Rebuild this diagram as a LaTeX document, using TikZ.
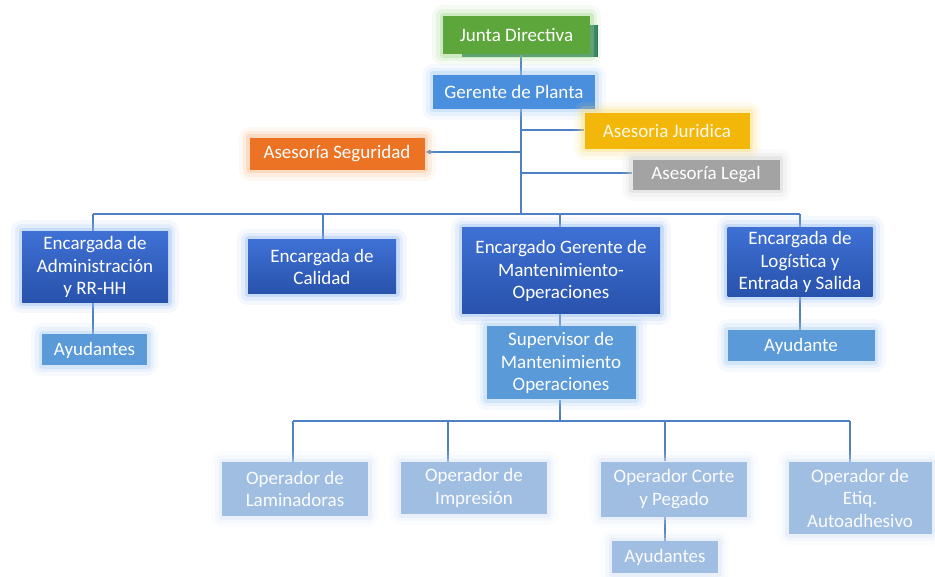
\documentclass[tikz,border=0pt]{standalone}
\usepackage{fontspec}
\setmainfont{Carlito}
\usetikzlibrary{arrows.meta,calc}

\definecolor{linkblue}{RGB}{78,128,198}
\definecolor{juntagreen}{RGB}{92,166,60}
\definecolor{juntadark}{RGB}{28,110,92}
\definecolor{juntaglow}{RGB}{160,214,140}
\definecolor{plantblue}{RGB}{74,143,222}
\definecolor{plantglow}{RGB}{165,202,243}
\definecolor{gold}{RGB}{242,183,8}
\definecolor{goldglow}{RGB}{250,220,120}
\definecolor{orangebox}{RGB}{236,114,36}
\definecolor{orangeglow}{RGB}{248,185,138}
\definecolor{greybox}{RGB}{163,163,163}
\definecolor{greyglow}{RGB}{208,208,208}
\definecolor{lvltop}{RGB}{62,112,212}
\definecolor{lvlbot}{RGB}{40,82,172}
\definecolor{lvlglow}{RGB}{150,186,240}
\definecolor{midblue}{RGB}{90,154,216}
\definecolor{midglow}{RGB}{170,206,243}
\definecolor{paleblue}{RGB}{160,190,226}
\definecolor{paleglow}{RGB}{212,226,244}

\pgfdeclarelayer{back}
\pgfsetlayers{back,main}

\tikzset{
  x=1pt, y=-1pt,
  glow/.style={
    preaction={draw=#1, line width=22pt, opacity=0.10, line join=round},
    preaction={draw=#1, line width=14pt, opacity=0.18, line join=round},
    preaction={draw=#1, line width=7pt, opacity=0.35, line join=round}},
  box/.style={rectangle, inner sep=1pt, align=center, text=white,
    font=\fontsize{19}{22.5}\selectfont},
  size/.style 2 args={minimum width=#1pt, minimum height=#2pt},
  juntabox/.style={box, fill=juntagreen, glow=juntaglow},
  plantbox/.style={box, fill=plantblue, glow=plantglow},
  juridbox/.style={box, fill=gold, glow=goldglow, text=white!92!gold},
  segbox/.style={box, fill=orangebox, glow=orangeglow},
  legalbox/.style={box, fill=greybox, glow=greyglow},
  headbox/.style={box, top color=lvltop, bottom color=lvlbot, glow=lvlglow},
  subbox/.style={box, fill=midblue, glow=midglow},
  opbox/.style={box, fill=paleblue, glow=paleglow, text=white!96!paleblue},
  link/.style={draw=linkblue, line width=1.6pt},
  linkarrow/.style={link, -{Latex[length=6pt,width=5pt]}}
}

\begin{document}
\begin{tikzpicture}
\useasboundingbox (0,0) rectangle (935,577);

% top of the chart
\node[juntabox, size={147}{38}] (junta) at (516.5,35.5) {Junta Directiva};
\node[plantbox, size={162}{34}] (plant) at (514,92) {Gerente de Planta};
\node[juridbox, size={165}{36}] (jurid) at (667,131) {Asesoria Juridica};
\node[segbox, size={175}{32}] (seg) at (337,154) {Asesoría Seguridad};
\node[legalbox, size={147}{30}] (legal) at (706,175) {Asesoría Legal};

% second level
\node[headbox, size={146}{71}] (admin) at (95,267) {Encargada de\\Administración\\y RR-HH};
\node[headbox, size={148}{54}] (calidad) at (322,267) {Encargada de\\Calidad};
\node[headbox, size={198}{86}] (mant) at (561,271) {Encargado Gerente de\\Mantenimiento-\\Operaciones};
\node[headbox, size={145}{69}] (logis) at (800,262) {Encargada de\\Logística y\\Entrada y Salida};

% helpers and supervisor
\node[subbox, size={105}{31}] (ayudA) at (94.5,350) {Ayudantes};
\node[subbox, size={149}{73}] (superv) at (561,363) {Supervisor de\\Mantenimiento\\Operaciones};
\node[subbox, size={147}{31}] (ayudB) at (801,346) {Ayudante};

% operators
\node[opbox, size={146}{54}] (lam) at (295,489) {Operador de\\Laminadoras};
\node[opbox, size={146}{52}] (imp) at (474,488) {Operador de\\Impresión};
\node[opbox, size={146}{55}] (corte) at (674,489) {Operador Corte\\y Pegado};
\node[opbox, size={143}{72}] (etiq) at (860,498) {Operador de\\Etiq.\\Autoadhesivo};
\node[opbox, size={106}{32}] (ayudC) at (665,557) {Ayudantes};

% junction points of the connectors
\coordinate (spine) at (521,214);
\coordinate (jA) at (521,130);
\coordinate (jS) at (521,152);
\coordinate (jL) at (521,173);
\coordinate (busA) at (93,214);
\coordinate (busB) at (323,214);
\coordinate (busC) at (560,214);
\coordinate (busD) at (800,214);
\coordinate (lowA) at (293,421);
\coordinate (lowB) at (448,421);
\coordinate (lowC) at (560,421);
\coordinate (lowD) at (665,421);
\coordinate (lowE) at (850,421);

\begin{pgfonlayer}{back}
  % dark offset shadow of the board box
  \fill[juntadark] (462,25) rectangle (598,57.5);
  % spine and advisory branches
  \draw[link] (junta.south -| spine) -- (spine);
  \draw[link] (jA) -- (jurid.west |- jA);
  \draw[linkarrow] (jS) -- (seg.east |- jS);
  \draw[link] (jL) -- (legal.west |- jL);
  % second level bus
  \draw[link] (busA) -- (busD);
  \draw[link] (busA) -- (admin.north -| busA);
  \draw[link] (busB) -- (calidad.north -| busB);
  \draw[link] (busC) -- (mant.north -| busC);
  \draw[link] (busD) -- (logis.north -| busD);
  \draw[link] (admin.south -| busA) -- (ayudA.north -| busA);
  \draw[link] (mant.south -| busC) -- (superv.north -| busC);
  \draw[link] (logis.south -| busD) -- (ayudB.north -| busD);
  % operator bus
  \draw[link] (superv.south -| lowC) -- (lowC);
  \draw[link] (lowA) -- (lowE);
  \draw[link] (lowA) -- (lam.north -| lowA);
  \draw[link] (lowB) -- (imp.north -| lowB);
  \draw[link] (lowD) -- (corte.north -| lowD);
  \draw[link] (lowE) -- (etiq.north -| lowE);
  \draw[link] (corte.south -| lowD) -- (ayudC.north -| lowD);
\end{pgfonlayer}
\end{tikzpicture}
\end{document}
